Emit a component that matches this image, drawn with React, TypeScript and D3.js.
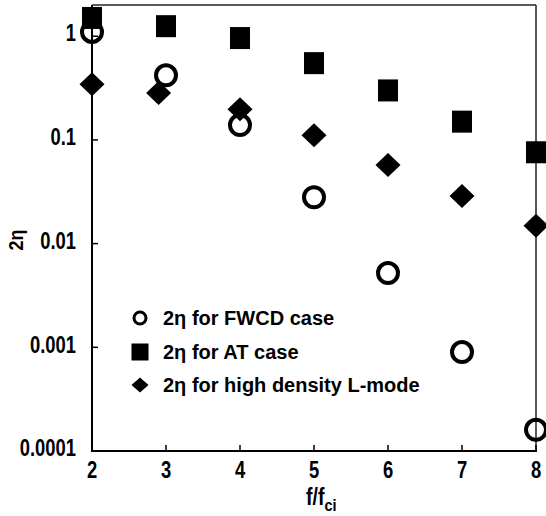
import * as d3 from "d3"

// f / f_ci values on the x axis
const fRatio = [2, 3, 4, 5, 6, 7, 8]
const lModeX = [2, 2.9, 4, 5, 6, 7, 8]

// 2*eta for each case
const fwcd = [1.1, 0.42, 0.139, 0.028, 0.0052, 0.0009, 0.00016]
const atCase = [1.5, 1.25, 0.96, 0.55, 0.3, 0.15, 0.076]
const lMode = [0.344, 0.283, 0.198, 0.111, 0.0573, 0.0288, 0.0149]

const xTicks = [2, 3, 4, 5, 6, 7, 8]
const yTicks = [0.0001, 0.001, 0.01, 0.1, 1]
const yTickLabels = ["0.0001", "0.001", "0.01", "0.1", "1"]

const legendLabels = ["2η for FWCD case", "2η for AT case", "2η for high density L-mode"]

const font = "'Liberation Sans', Arial, Helvetica, sans-serif"

export default function App() {
  const left = 92
  const right = 536
  const top = 5
  const bottom = 451

  const x = d3.scaleLinear().domain([2, 8]).range([left, right])
  const y = d3.scaleLog().domain([0.0001, 2]).range([bottom, top])

  const diamond = (cx: number, cy: number, hw: number, hh: number) =>
    `M${cx},${cy - hh}L${cx + hw},${cy}L${cx},${cy + hh}L${cx - hw},${cy}Z`

  const legendY = [318, 352, 385]

  return (
    <svg
      width={546}
      height={516}
      style={{ position: "absolute", left: 0, top: 0, background: "#fff" }}
      fontFamily={font}
      fontWeight="bold"
    >
      {/* frame */}
      <line x1={left} x2={right} y1={top} y2={top} stroke="#222" strokeWidth={1.5} />
      <line x1={right} x2={right} y1={top} y2={bottom} stroke="#222" strokeWidth={1.5} />
      <line x1={left} x2={left} y1={top} y2={bottom + 1} stroke="#000" strokeWidth={2} />
      <line x1={left - 1} x2={right + 1} y1={bottom} y2={bottom} stroke="#000" strokeWidth={2} />

      {/* y ticks */}
      {yTicks.map((t, i) => (
        <g key={"y" + i}>
          <line x1={left} x2={left + 6} y1={y(t)} y2={y(t)} stroke="#000" strokeWidth={1.5} />
          <g transform={`translate(76,${y(t) - 3}) scale(0.8,1)`}>
            <text textAnchor="end" dominantBaseline="central" fontSize={23}>
              {yTickLabels[i]}
            </text>
          </g>
        </g>
      ))}

      {/* x ticks */}
      {xTicks.map((t) => (
        <g key={"x" + t}>
          <line x1={x(t)} x2={x(t)} y1={bottom} y2={bottom - 6} stroke="#000" strokeWidth={1.5} />
          <g transform={`translate(${x(t)},478) scale(0.8,1)`}>
            <text textAnchor="middle" fontSize={23}>
              {t}
            </text>
          </g>
        </g>
      ))}

      {/* axis titles */}
      <g transform="translate(306,505) scale(0.85,1)">
        <text fontSize={23}>
          f/f
          <tspan fontSize={17} dy={6}>
            ci
          </tspan>
        </text>
      </g>
      <g transform="translate(23,240) rotate(-90) scale(0.85,1)">
        <text textAnchor="middle" fontSize={21}>
          2η
        </text>
      </g>

      {/* AT case squares */}
      {fRatio.map((f, i) => (
        <rect key={"s" + i} x={x(f) - 10} y={y(atCase[i]) - 11} width={20} height={22} fill="#000" />
      ))}

      {/* L-mode diamonds */}
      {lModeX.map((f, i) => (
        <path key={"d" + i} d={diamond(x(f), y(lMode[i]), 12.5, 12)} fill="#000" />
      ))}

      {/* FWCD circles */}
      {fRatio.map((f, i) => (
        <circle key={"c" + i} cx={x(f)} cy={y(fwcd[i])} r={10} fill="none" stroke="#000" strokeWidth={4} />
      ))}

      {/* legend */}
      <circle cx={140} cy={legendY[0]} r={6} fill="none" stroke="#000" strokeWidth={3} />
      <rect x={131.5} y={legendY[1] - 8.5} width={17} height={17} fill="#000" />
      <path d={diamond(140, legendY[2], 8.5, 7.5)} fill="#000" />
      {legendLabels.map((l, i) => (
        <text key={"l" + i} x={163} y={legendY[i] + 7} fontSize={20}>
          {l}
        </text>
      ))}
    </svg>
  )
}
